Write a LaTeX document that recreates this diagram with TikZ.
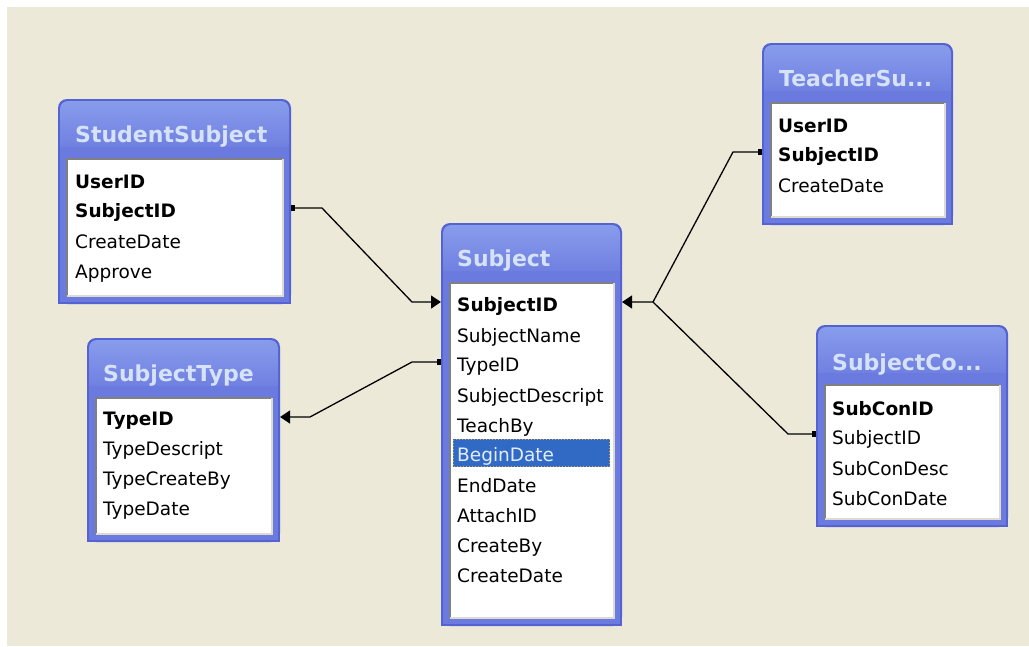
\documentclass[tikz,border=0pt]{standalone}
\usepackage{fontspec}
\setmainfont{DejaVu Sans}
\usetikzlibrary{arrows.meta,calc}
\definecolor{xpbeige}{RGB}{236,233,216}
\definecolor{tbledge}{RGB}{84,98,212}
\definecolor{tblblue}{RGB}{106,122,222}
\definecolor{tbltop}{RGB}{136,156,236}
\definecolor{ttltext}{RGB}{214,226,248}
\definecolor{sunkdark}{RGB}{128,128,128}
\definecolor{sunklight}{RGB}{222,218,208}
\definecolor{selblue}{RGB}{49,106,197}
\definecolor{selring}{RGB}{226,168,64}
\definecolor{seltext}{RGB}{226,236,252}

% table frame: name, x1, y1, x2, y2 (pixel units)
\newcommand{\dbframe}[5]{%
  \fill[tbledge, rounded corners=9pt] (#2,#3) rectangle (#4,#5);
  \fill[tbledge] (#2,#3+30) rectangle (#4,#5);
  \shade[top color=tbltop, bottom color=tblblue, rounded corners=8pt] (#2+2,#3+2) rectangle (#4-2,#3+58);
  \fill[tblblue] (#2+2,#3+48) rectangle (#4-2,#5-2);
  \fill[white] (#2+9,#3+60) rectangle (#4-8,#5-8);
  \draw[sunkdark, line width=1.5pt] (#2+9,#5-8) |- (#4-8,#3+60);
  \draw[sunklight, line width=1.5pt] (#2+9,#5-8) -| (#4-8,#3+60);
  \coordinate (#1-nw) at (#2,#3);
  \coordinate (#1-se) at (#4,#5);
}

\tikzset{
  ttl/.style={anchor=west, inner sep=0pt, text=ttltext, text height=16pt, text depth=0pt,
              font=\fontsize{22}{24}\selectfont\bfseries},
  field/.style={anchor=west, inner sep=0pt, text height=13.5pt, text depth=0pt,
                font=\fontsize{18.5}{20}\selectfont},
  key/.style={field, font=\fontsize{18.5}{20}\selectfont\bfseries},
  fk/.style={line width=1.3pt, {Square[length=4pt,width=6pt]}-{Triangle[length=10pt,width=13pt]}},
  fkline/.style={line width=1.3pt, {Square[length=4pt,width=6pt]}-}
}

\begin{document}
\begin{tikzpicture}[x=1pt, y=-1pt]
    \useasboundingbox (0,0) rectangle (1029,646);
    \fill[white] (0,0) rectangle (1029,646);
    \fill[xpbeige] (7,7) rectangle (1029,646);

    % StudentSubject
    \dbframe{ss}{58}{99}{291}{304}
    \node[ttl] (ss-title) at (75,134) {StudentSubject};
    \node[key] (ss-userid) at (75,182) {UserID};
    \node[key] (ss-subjectid) at (75,211) {SubjectID};
    \node[field] (ss-createdate) at (75,242) {CreateDate};
    \node[field] (ss-approve) at (75,272) {Approve};

    % SubjectType
    \dbframe{st}{87}{338}{280}{542}
    \node[ttl] (st-title) at (103,373) {SubjectType};
    \node[key] (st-typeid) at (103,419) {TypeID};
    \node[field] (st-typedescript) at (103,449) {TypeDescript};
    \node[field] (st-typecreateby) at (103,479) {TypeCreateBy};
    \node[field] (st-typedate) at (103,509) {TypeDate};

    % Subject
    \dbframe{sj}{441}{223}{622}{626}
    \node[ttl] (sj-title) at (457,258) {Subject};
    \fill[selblue] (453,439) rectangle (610,467);
    \draw[selring, dotted, line width=1pt] (453.5,439.5) rectangle (609.5,466.5);
    \node[key] (sj-subjectid) at (457,305) {SubjectID};
    \node[field] (sj-subjectname) at (457,336) {SubjectName};
    \node[field] (sj-typeid) at (457,365) {TypeID};
    \node[field] (sj-subjectdescript) at (457,396) {SubjectDescript};
    \node[field] (sj-teachby) at (457,426) {TeachBy};
    \node[field, text=seltext] (sj-begindate) at (457,455) {BeginDate};
    \node[field] (sj-enddate) at (457,486) {EndDate};
    \node[field] (sj-attachid) at (457,516) {AttachID};
    \node[field] (sj-createby) at (457,546) {CreateBy};
    \node[field] (sj-createdate) at (457,576) {CreateDate};

    % TeacherSubject
    \dbframe{ts}{762}{43}{953}{225}
    \node[ttl] (ts-title) at (779,78) {TeacherSu...};
    \node[key] (ts-userid) at (778,126) {UserID};
    \node[key] (ts-subjectid) at (778,155) {SubjectID};
    \node[field] (ts-createdate) at (778,186) {CreateDate};

    % SubjectContent
    \dbframe{sc}{816}{325}{1008}{527}
    \node[ttl] (sc-title) at (832,362) {SubjectCo...};
    \node[key] (sc-subconid) at (832,409) {SubConID};
    \node[field] (sc-subjectid) at (832,438) {SubjectID};
    \node[field] (sc-subcondesc) at (832,469) {SubConDesc};
    \node[field] (sc-subcondate) at (832,499) {SubConDate};

    % relations
    \coordinate (jn) at ($(sj-subjectid -| sj-se)+(31,-3)$);
    \draw[fk] ($(ss-subjectid -| ss-se)+(0,-3)$) -- ++(31,0)
        -- ($(sj-subjectid -| sj-nw)+(-29,-3)$) -- ($(sj-subjectid -| sj-nw)+(0,-3)$);
    \draw[fk] ($(sj-typeid -| sj-nw)+(0,-3)$) -- ++(-29,0)
        -- ($(st-typeid -| st-se)+(30,-2)$) -- ($(st-typeid -| st-se)+(0,-2)$);
    \draw[fk] ($(ts-subjectid -| ts-nw)+(0,-3)$) -- ++(-29,0)
        -- (jn) -- ($(sj-subjectid -| sj-se)+(0,-3)$);
    \draw[fkline] ($(sc-subjectid -| sc-nw)+(0,-4)$) -- ++(-28,0) -- (jn);
\end{tikzpicture}
\end{document}
